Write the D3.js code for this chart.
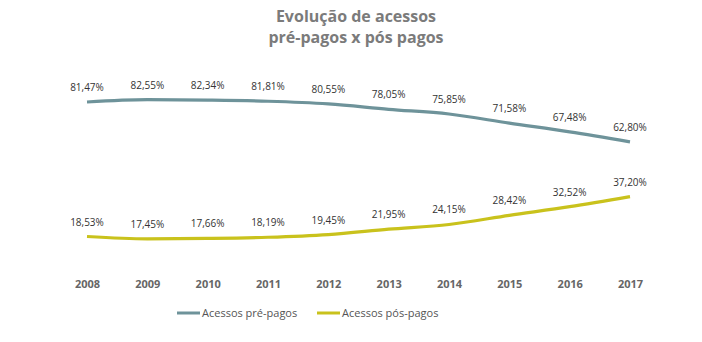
<!DOCTYPE html>
<html><head><meta charset="utf-8">
<script src="https://cdn.jsdelivr.net/npm/d3@7"></script>
<style>body{margin:0;background:#fff;font-family:"Open Sans",sans-serif}</style>
</head><body><svg id="c" width="702" height="342"></svg>
<script>
const years = ["2008","2009","2010","2011","2012","2013","2014","2015","2016","2017"];
const prePagos = [81.47,82.55,82.34,81.81,80.55,78.05,75.85,71.58,67.48,62.80];
const posPagos = [18.53,17.45,17.66,18.19,19.45,21.95,24.15,28.42,32.52,37.20];
const seriesNames = ["Acessos pré-pagos","Acessos pós-pagos"];
const colors = ["#6e939a","#c9c21c"];

const svg = d3.select("#c");
const x = d3.scalePoint().domain(years).range([87,630]);
const y = d3.scaleLinear().domain([18.53,81.47]).range([236.5,102]);

svg.append("text").attr("x",356).attr("y",22).attr("text-anchor","middle")
  .attr("font-size",16).attr("font-weight","bold").attr("fill","#7b7b7b").text("Evolução de acessos");
svg.append("text").attr("x",356).attr("y",43).attr("text-anchor","middle")
  .attr("font-size",16).attr("font-weight","bold").attr("fill","#7b7b7b").text("pré-pagos x pós pagos");

const fmt = v => v.toFixed(2).replace(".",",")+"%";
const line = d3.line().x((d,i)=>x(years[i])).y(d=>y(d)).curve(d3.curveMonotoneX);
[prePagos,posPagos].forEach((s,k)=>{
  svg.append("path").attr("d",line(s)).attr("fill","none").attr("stroke",colors[k])
    .attr("stroke-width",3.2).attr("stroke-linecap","butt");
  svg.selectAll(null).data(s).enter().append("text")
    .attr("x",(d,i)=>x(years[i])).attr("y",d=>y(d)-11)
    .attr("text-anchor","middle").attr("font-size",10).attr("fill","#333").text(fmt);
});

const xAxis = d3.axisBottom(x).tickSize(0).tickPadding(0);
const ax = svg.append("g").attr("transform","translate(0,280)").call(xAxis);
ax.select(".domain").remove();
ax.selectAll("text").attr("font-size",11).attr("font-weight","bold").attr("fill","#666")
  .attr("font-family","'Open Sans',sans-serif");

const leg = [[177,202],[317,342]];
seriesNames.forEach((n,k)=>{
  svg.append("line").attr("x1",leg[k][0]).attr("x2",leg[k][0]+23).attr("y1",313).attr("y2",313)
    .attr("stroke",colors[k]).attr("stroke-width",3);
  svg.append("text").attr("x",leg[k][1]).attr("y",317).attr("font-size",11).attr("fill","#555").text(n);
});
</script></body></html>
